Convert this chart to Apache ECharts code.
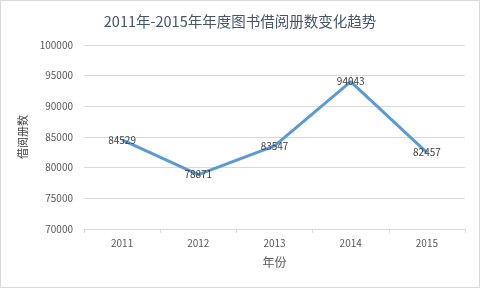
<!DOCTYPE html>
<html><head><meta charset="utf-8">
<script src="https://cdn.jsdelivr.net/npm/echarts@6/dist/echarts.min.js"></script>
<style>html,body{margin:0;padding:0;background:#fff}#c{width:480px;height:288px}</style>
</head><body><div id="c"></div>
<script>
const titleText = '2011年-2015年年度图书借阅册数变化趋势';
const years = ['2011','2012','2013','2014','2015'];
const borrowCounts = [84529, 78871, 83547, 94043, 82457];
const yTicks = {min:70000, max:100000, interval:5000};
const xName = '年份';
const yName = '借阅册数';

const chart = echarts.init(document.getElementById('c'), null, {renderer:'canvas'});
chart.setOption({
  animation:false,
  backgroundColor:'#fff',
  graphic:[{type:'rect',shape:{x:0.5,y:0.5,width:479,height:287},style:{fill:'none',stroke:'#d9d9d9',lineWidth:1},silent:true}],
  title:{text:titleText,left:'center',top:9,textStyle:{fontFamily:'Noto Sans CJK SC',fontSize:14.5,fontWeight:'normal',color:'#44546a'}},
  grid:{left:84,right:15,top:45,bottom:59,containLabel:false},
  xAxis:{type:'category',data:years,boundaryGap:true,name:xName,nameLocation:'middle',nameGap:27,
    nameTextStyle:{fontFamily:'Noto Sans CJK SC',fontSize:12,color:'#595959'},
    axisLine:{lineStyle:{color:'#d9d9d9'}},axisTick:{show:true,length:4,lineStyle:{color:'#d9d9d9'}},
    axisLabel:{fontFamily:'Noto Sans CJK SC',fontSize:10,color:'#595959',margin:9}},
  yAxis:{type:'value',min:yTicks.min,max:yTicks.max,interval:yTicks.interval,name:yName,nameLocation:'middle',nameGap:56,
    nameTextStyle:{fontFamily:'Noto Sans CJK SC',fontSize:11,color:'#404040'},
    axisLine:{show:false},axisTick:{show:false},
    splitLine:{lineStyle:{color:'#d9d9d9'}},
    axisLabel:{fontFamily:'Noto Sans CJK SC',fontSize:10,color:'#595959',margin:11,formatter:v=>String(v)}},
  series:[{type:'line',data:borrowCounts,symbol:'circle',symbolSize:1,showSymbol:true,itemStyle:{opacity:0},
    lineStyle:{color:'#5b9bd5',width:3},
    label:{show:true,position:'inside',fontFamily:'Noto Sans CJK SC',fontSize:10,color:'#404040',opacity:1}}]
});
</script></body></html>
